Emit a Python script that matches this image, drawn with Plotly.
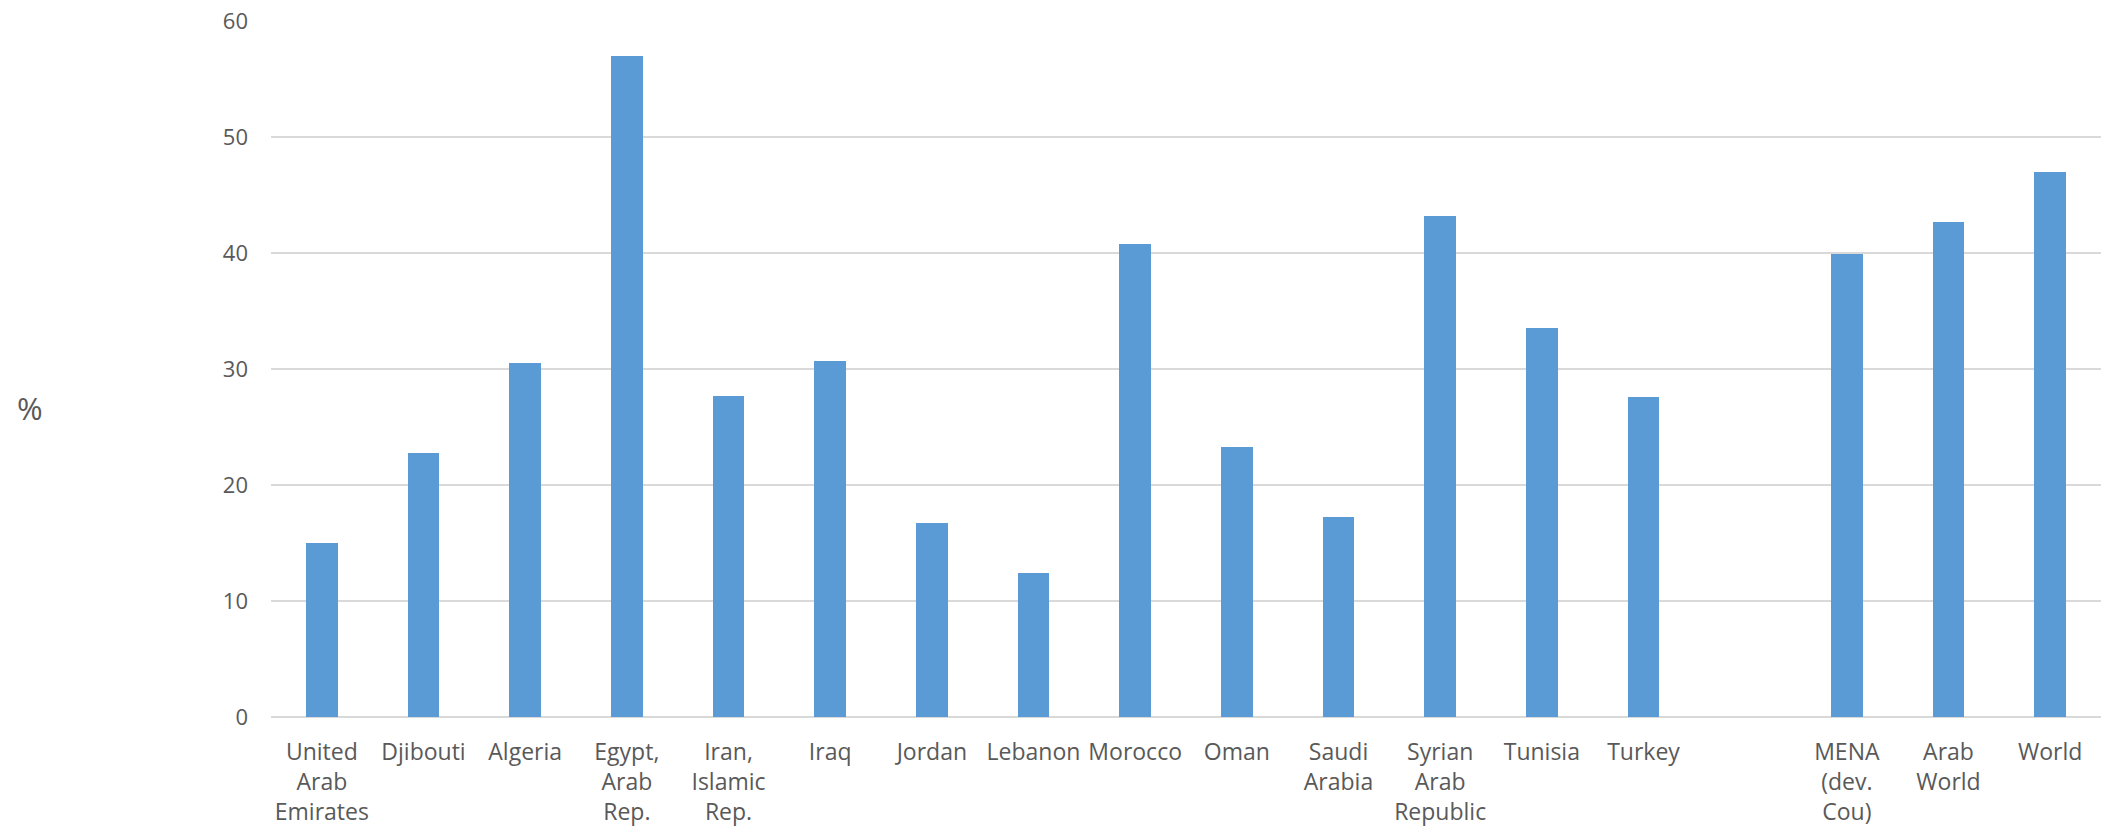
import plotly.graph_objects as go

# Share of population (%) by country and regional aggregates
countries = [
    "United<br>Arab<br>Emirates", "Djibouti", "Algeria", "Egypt,<br>Arab<br>Rep.",
    "Iran,<br>Islamic<br>Rep.", "Iraq", "Jordan", "Lebanon", "Morocco", "Oman",
    "Saudi<br>Arabia", "Syrian<br>Arab<br>Republic", "Tunisia", "Turkey",
]
country_values = [15.0, 22.8, 30.5, 57.0, 27.7, 30.7, 16.75, 12.4, 40.8, 23.3,
                  17.25, 43.2, 33.5, 27.6]

aggregates = ["MENA<br>(dev.<br>Cou)", "Arab<br>World", "World"]
aggregate_values = [39.95, 42.7, 47.0]

y_ticks = [0, 10, 20, 30, 40, 50, 60]

# one empty slot separates the countries from the aggregates
labels = countries + aggregates
values = country_values + aggregate_values
positions = list(range(len(countries))) + [len(countries) + 1 + i for i in range(len(aggregates))]
n_slots = len(countries) + 1 + len(aggregates)

BAR = "#5b9bd5"
TEXT = "#595959"
GRID = "#d9d9d9"
FONT = "Open Sans"

fig = go.Figure(
    go.Bar(
        x=positions,
        y=values,
        width=0.31,
        marker=dict(color=BAR, line=dict(width=0)),
        hovertext=[l.replace("<br>", " ") for l in labels],
    )
)

W, H = 2101, 836
L, R, T, B = 271, 0, 21, 119

fig.update_layout(
    width=W,
    height=H,
    margin=dict(l=L, r=R, t=T, b=B, pad=0),
    paper_bgcolor="white",
    plot_bgcolor="white",
    showlegend=False,
    bargap=0,
    font=dict(family=FONT, size=23, color=TEXT),
    xaxis=dict(
        range=[-0.5, n_slots - 0.5],
        tickmode="array",
        tickvals=positions,
        ticktext=labels,
        tickangle=0,
        showgrid=False,
        zeroline=False,
        showline=False,
        ticks="",
        ticklabelstandoff=19,
        tickfont=dict(family=FONT, size=23, color=TEXT),
        fixedrange=True,
    ),
    yaxis=dict(
        range=[0, 60],
        tickmode="array",
        tickvals=y_ticks,
        ticktext=[str(v) for v in y_ticks],
        showgrid=True,
        gridcolor=GRID,
        gridwidth=1.5,
        zeroline=True,
        zerolinecolor=GRID,
        zerolinewidth=1.5,
        showline=False,
        ticks="",
        ticklabelstandoff=22,
        tickfont=dict(family=FONT, size=22, color=TEXT),
        fixedrange=True,
    ),
    annotations=[
        dict(
            text="%",
            xref="paper",
            yref="paper",
            x=(30 - L) / (W - L - R),
            y=(H - B - 408) / (H - B - T),
            xanchor="center",
            yanchor="middle",
            showarrow=False,
            font=dict(family=FONT, size=31, color=TEXT),
        )
    ],
)

fig.write_html("out.html")
